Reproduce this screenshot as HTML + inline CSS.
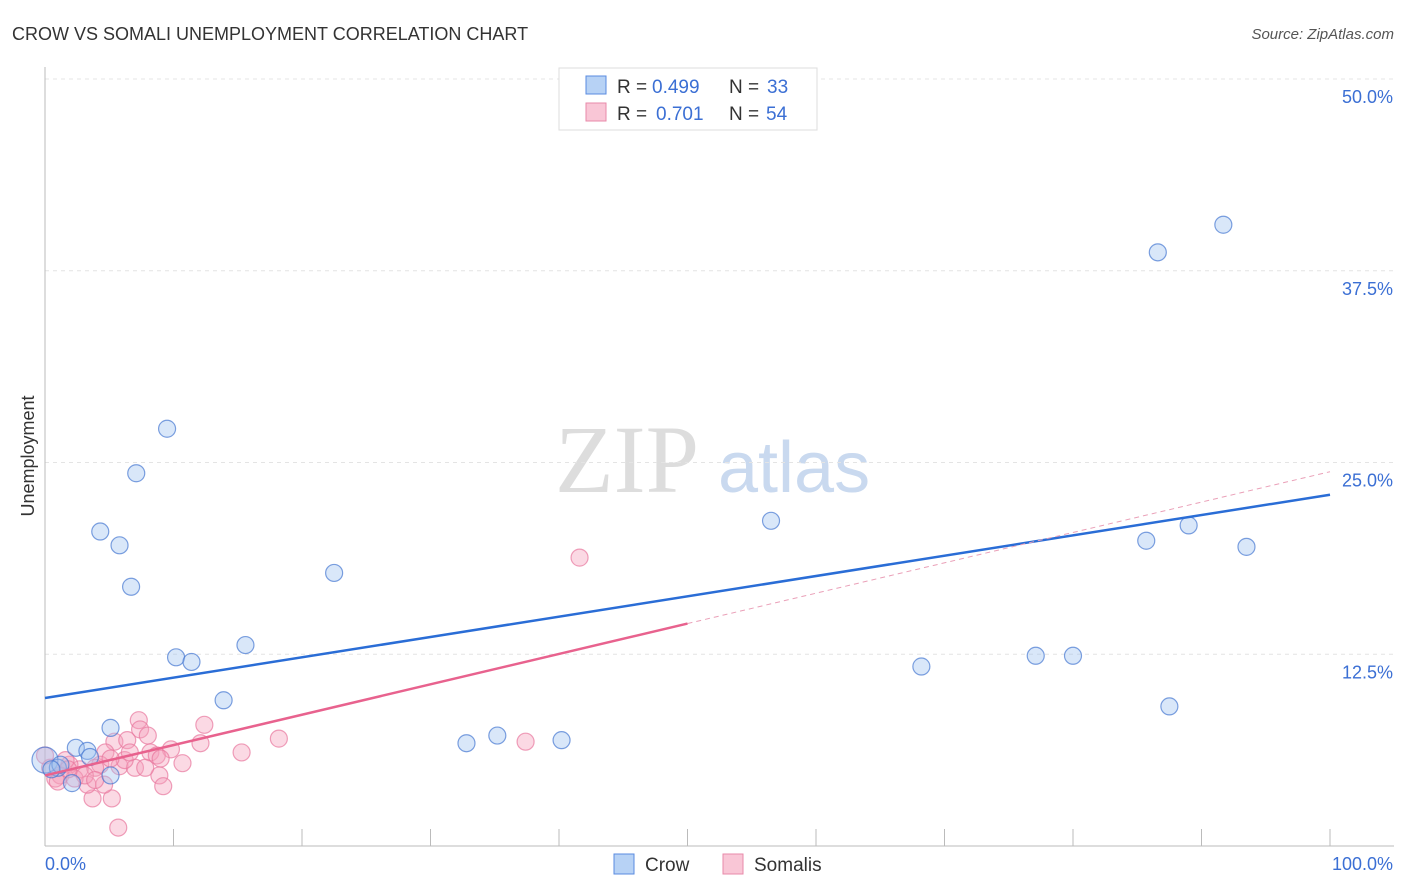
<!DOCTYPE html>
<html><head><meta charset="utf-8">
<style>
body{margin:0;background:#fff;font-family:"Liberation Sans",sans-serif;}
#wrap{position:relative;width:1406px;height:892px;overflow:hidden;}
</style></head>
<body>
<div id="wrap">
<svg id="chart" width="1406" height="892" xmlns="http://www.w3.org/2000/svg">
<text x="12" y="40" font-size="18" fill="#333">CROW VS SOMALI UNEMPLOYMENT CORRELATION CHART</text>
<text x="1394" y="39" font-size="15" fill="#555" font-style="italic" text-anchor="end">Source: ZipAtlas.com</text>
<text x="34" y="456" font-size="18" fill="#333" text-anchor="middle" transform="rotate(-90 34 456)">Unemployment</text>
<text x="555" y="492" font-size="96" fill="#ddd" font-family="Liberation Serif,serif">ZIP</text>
<text x="718" y="492" font-size="72" fill="#c9d9ef">atlas</text>
<g id="grid"></g><g id="marks"></g>
</svg>
</div>
<script>
const crowX=[9.5,7.1,4.3,5.8,6.7,22.5,10.2,11.4,15.6,13.9,5.1,32.8,35.2,40.2,56.5,68.2,77.1,80.0,86.6,91.7,85.7,89.0,93.5,87.5,0,2.4,3.3,1.0,2.1,5.1,3.5,1.2,0.5];
const crowY=[27.2,24.3,20.5,19.6,16.9,17.8,12.3,12.0,13.1,9.5,7.7,6.7,7.2,6.9,21.2,11.7,12.4,12.4,38.7,40.5,19.9,20.9,19.5,9.1,5.6,6.4,6.2,5.1,4.1,4.6,5.8,5.3,5.0];
const somX=[41.6,37.4,18.2,15.3,12.4,12.1,10.7,9.8,8.9,9.2,7.3,7.4,8.0,8.2,8.7,5.4,6.4,4.7,5.2,5.7,3.7,3.3,4.3,5.8,7.0,7.8,6.2,3.9,2.7,1.9,1.2,0.4,0,0.8,1.6,2.3,3.1,5.1,6.6,9.0,4.6,1.0,1.8,3.9];
const somY=[18.8,6.8,7.0,6.1,7.9,6.7,5.4,6.3,4.6,3.9,8.2,7.6,7.2,6.1,5.9,6.8,6.9,6.1,3.1,1.2,3.1,4.0,5.3,5.2,5.1,5.1,5.6,5.1,5.0,5.3,4.6,5.1,5.9,4.4,5.6,4.4,4.6,5.7,6.1,5.7,4.0,4.2,5.0,4.3];
const crowLine=[9.65,22.9];   // y at x=0, x=100
const somLine=[4.6,24.4];
const yTicks=[12.5,25.0,37.5,50.0];
const xTickLabels=["0.0%","100.0%"];
const NS="http://www.w3.org/2000/svg";
const X=v=>45+v*12.85, Y=v=>846-v*15.34;
function mk(p,t,a){const e=document.createElementNS(NS,t);for(const k in a)e.setAttribute(k,a[k]);p.appendChild(e);return e;}
const g=document.getElementById('grid'),m=document.getElementById('marks');
yTicks.forEach(t=>{
 const l=mk(g,'line',{x1:45,x2:1394,y1:Y(t),y2:Y(t),stroke:'#e4e4e4','stroke-dasharray':'4,4'});
 
 
 const tx=mk(g,'text',{x:1393,y:Y(t)+24,'font-size':18,fill:'#3b6fd4','text-anchor':'end'});tx.textContent=t.toFixed(1)+'%';
 
 
});
mk(g,'line',{x1:45,x2:45,y1:67,y2:846,stroke:'#bbb'});
mk(g,'line',{x1:45,x2:1394,y1:846,y2:846,stroke:'#bbb'});
for(let i=0;i<=10;i++){mk(g,'line',{x1:X(i*10),x2:X(i*10),y1:829,y2:846,stroke:'#bbb'});}
const xl0=mk(g,'text',{x:45,y:870,'font-size':18,fill:'#3b6fd4'});xl0.textContent=xTickLabels[0];


const xl1=mk(g,'text',{x:1393,y:870,'font-size':18,fill:'#3b6fd4','text-anchor':'end'});xl1.textContent=xTickLabels[1];


somX.forEach((v,i)=>{const c=mk(m,'circle',{cx:X(v),cy:Y(somY[i]),r:8.5,fill:'rgba(244,160,188,0.4)',stroke:'rgba(232,120,158,0.7)','stroke-width':1.2});
 
 });
crowX.forEach((v,i)=>{const c=mk(m,'circle',{cx:X(v),cy:Y(crowY[i]),r:i==24?13:8.5,fill:'rgba(160,195,240,0.4)',stroke:'rgba(70,120,210,0.7)','stroke-width':1.2});
 
 });
const bl=mk(m,'line',{x1:X(0),y1:Y(crowLine[0]),x2:X(100),y2:Y(crowLine[1]),stroke:'#2a6dd6','stroke-width':2.5});


const sm=somLine[0]+(somLine[1]-somLine[0])*0.5;
const pl=mk(m,'line',{x1:X(0),y1:Y(somLine[0]),x2:X(50),y2:Y(sm),stroke:'#e8628e','stroke-width':2.5});


const pd=mk(m,'line',{x1:X(50),y1:Y(sm),x2:X(100),y2:Y(somLine[1]),stroke:'#eaa0b8','stroke-width':1,'stroke-dasharray':'5,4'});


</script>
<svg style="position:absolute;left:0;top:0" width="1406" height="892">
<g font-size="19">
<rect x="559" y="68" width="258" height="62" fill="#fff" stroke="#ddd"/>
<rect x="586" y="76" width="20" height="18" fill="#b7d2f5" stroke="#5a8be0"/>
<rect x="586" y="103" width="20" height="18" fill="#f9c6d6" stroke="#e88aa9"/>
<text x="617" y="93" fill="#333">R =</text>
<text x="652" y="93" fill="#3b6fd4">0.499</text>
<text x="729" y="93" fill="#333">N =</text>
<text x="767" y="93" fill="#3b6fd4">33</text>
<text x="617" y="120" fill="#333">R =</text>
<text x="656" y="120" fill="#3b6fd4">0.701</text>
<text x="729" y="120" fill="#333">N =</text>
<text x="766" y="120" fill="#3b6fd4">54</text>
</g>
<g>
<rect x="614" y="854" width="20" height="20" fill="#b7d2f5" stroke="#5a8be0"/>
<text x="645" y="871" font-size="19" fill="#333">Crow</text>
<rect x="723" y="854" width="20" height="20" fill="#f9c6d6" stroke="#e88aa9"/>
<text x="754" y="871" font-size="19" fill="#333">Somalis</text>
</g>
</svg>
</body></html>
